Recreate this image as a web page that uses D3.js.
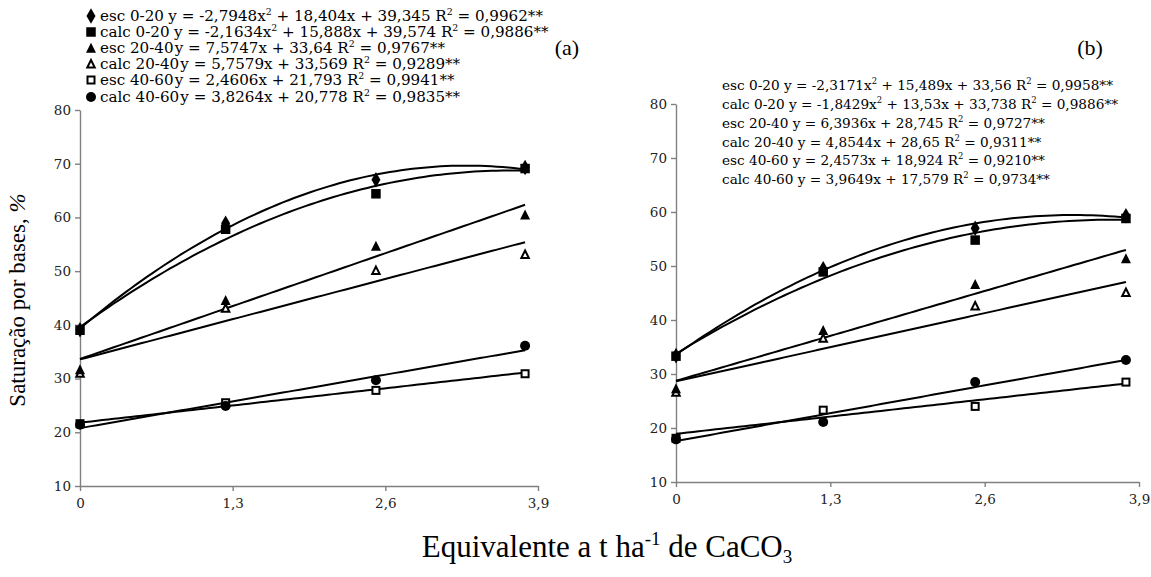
<!DOCTYPE html>
<html><head><meta charset="utf-8">
<script src="https://cdn.jsdelivr.net/npm/d3@7"></script>
<style>body{margin:0;background:#fff}svg{display:block}</style>
</head><body>
<svg id="c" width="1151" height="577"></svg>
<script>
// ---- data ----
const doses = [0, 1.24, 2.52, 3.79];          // x positions of the observations
const xTicks = [0, 1.3, 2.6, 3.9];
const yTicks = [10, 20, 30, 40, 50, 60, 70, 80];
const seriesNames = ["esc 0-20", "calc 0-20", "esc 20-40", "calc 20-40", "esc 40-60", "calc 40-60"];
const markers = ["diamond", "square", "triangle", "triangleOpen", "squareOpen", "circle"];
// panel (a)
const aValues = [
  [39.1, 58.9, 67.0, 69.3],
  [39.0, 57.8, 64.4, 69.1],
  [31.7, 44.6, 54.7, 60.5],
  [31.0, 43.1, 50.1, 53.1],
  [21.6, 25.5, 27.8, 30.9],
  [21.4, 24.9, 29.7, 36.1]
];
// trend coefficients [a2, a1, a0]
const aCoef = [
  [-2.7948, 18.404, 39.345],
  [-2.1634, 15.888, 39.574],
  [0, 7.5747, 33.64],
  [0, 5.7579, 33.569],
  [0, 2.4606, 21.793],
  [0, 3.8264, 20.778]
];
const aEq = [
  ["y = -2,7948x", "2", " + 18,404x + 39,345 R", "2", " = 0,9962**"],
  ["y = -2,1634x", "2", " + 15,888x + 39,574 R", "2", " = 0,9886**"],
  ["y = 7,5747x + 33,64 R", "2", " = 0,9767**"],
  ["y = 5,7579x + 33,569 R", "2", " = 0,9289**"],
  ["y = 2,4606x + 21,793 R", "2", " = 0,9941**"],
  ["y = 3,8264x + 20,778 R", "2", " = 0,9835**"]
];
// panel (b)
const bValues = [
  [33.4, 49.5, 57.0, 59.3],
  [33.3, 48.9, 54.8, 58.8],
  [27.3, 38.1, 46.6, 51.4],
  [26.6, 36.6, 42.6, 45.1],
  [18.1, 23.3, 24.0, 28.5],
  [17.9, 21.1, 28.5, 32.6]
];
const bCoef = [
  [-2.3171, 15.489, 33.56],
  [-1.8429, 13.53, 33.738],
  [0, 6.3936, 28.745],
  [0, 4.8544, 28.65],
  [0, 2.4573, 18.924],
  [0, 3.9649, 17.579]
];
const bEq = [
  ["y = -2,3171x", "2", " + 15,489x + 33,56 R", "2", " = 0,9958**"],
  ["y = -1,8429x", "2", " + 13,53x + 33,738 R", "2", " = 0,9886**"],
  ["y = 6,3936x + 28,745 R", "2", " = 0,9727**"],
  ["y = 4,8544x + 28,65 R", "2", " = 0,9311**"],
  ["y = 2,4573x + 18,924 R", "2", " = 0,9210**"],
  ["y = 3,9649x + 17,579 R", "2", " = 0,9734**"]
];

const svg = d3.select("#c");
const serif = "Liberation Serif";
const book = "DejaVu Serif";
const fmt = d => d === 0 ? "0" : d3.format(".1f")(d).replace(".", ",");

function drawMarker(g, type, cx, cy) {
  if (type === "diamond") {
    g.append("path").attr("d", d3.symbol(d3.symbolDiamond, 70)()).attr("transform", `translate(${cx},${cy})`).attr("fill", "#000");
  } else if (type === "square" || type === "squareOpen") {
    const open = type === "squareOpen";
    const w = open ? 7 : 9.5;
    g.append("rect").attr("x", cx - w / 2).attr("y", cy - w / 2).attr("width", w).attr("height", w)
      .attr("fill", open ? "#fff" : "#000").attr("stroke", "#000").attr("stroke-width", open ? 2 : 0);
  } else if (type === "triangle" || type === "triangleOpen") {
    const open = type === "triangleOpen";
    const h = open ? 7 : 9.5, w = open ? 7.5 : 10;
    g.append("path").attr("d", `M${cx},${cy - h / 2 - 0.5}L${cx + w / 2},${cy + h / 2}L${cx - w / 2},${cy + h / 2}Z`)
      .attr("fill", open ? "#fff" : "#000").attr("stroke", "#000").attr("stroke-width", open ? 2 : 0);
  } else if (type === "circle") {
    g.append("circle").attr("cx", cx).attr("cy", cy).attr("r", 5).attr("fill", "#000");
  }
}

function panel(opt) {
  const x = d3.scaleLinear().domain([0, 3.9]).range([opt.x0, opt.x1]);
  const y = d3.scaleLinear().domain([10, 80]).range([opt.y0, opt.y1]);
  const g = svg.append("g");
  const ax = g.append("g").attr("transform", `translate(0,${opt.y0})`)
    .call(d3.axisBottom(x).tickValues(xTicks).tickSize(5).tickSizeOuter(0).tickFormat(fmt));
  const ay = g.append("g").attr("transform", `translate(${opt.x0},0)`)
    .call(d3.axisLeft(y).tickValues(yTicks).tickSize(5).tickSizeOuter(0).tickFormat(d3.format("d")));
  [ax, ay].forEach(a => {
    a.attr("font-family", book);
    a.select(".domain").attr("stroke", "#808080").attr("stroke-width", 1.4);
    a.selectAll(".tick line").attr("stroke", "#808080").attr("stroke-width", 1.4);
    a.selectAll(".tick text").attr("font-family", book).attr("font-size", 13.5).attr("fill", "#222");
  });
  ax.selectAll(".tick text").attr("dy", "1.0em");
  ay.selectAll(".tick text").attr("x", -9);

  // trend lines
  const line = d3.line().x(d => x(d[0])).y(d => y(d[1]));
  const xs = d3.range(0, 80).map(i => doses[3] * i / 79);
  opt.coef.forEach(c => {
    const pts = xs.map(v => [v, c[0] * v * v + c[1] * v + c[2]]);
    g.append("path").attr("d", line(pts)).attr("fill", "none").attr("stroke", "#000").attr("stroke-width", 2);
  });
  const order = [0, 1, 3, 2, 4, 5];
  order.forEach(si => {
    opt.values[si].forEach((v, i) => drawMarker(g, markers[si], x(doses[i]), y(v)));
  });
  return g;
}

panel({ x0: 80, x1: 538, y0: 486, y1: 110, values: aValues, coef: aCoef });
panel({ x0: 676, x1: 1139, y0: 482, y1: 104, values: bValues, coef: bCoef });

// legends
function eqText(t, parts, size) {
  parts.forEach((p, i) => {
    const sup = (p === "2");
    t.append("tspan").text(p).attr("font-size", sup ? size * 0.62 : size)
      .attr("dy", sup ? -size * 0.42 : (i > 0 && parts[i - 1] === "2" ? size * 0.42 : 0));
  });
}
// legend (a)
const LA = 14;
const legA = svg.append("g").attr("font-family", book).attr("fill", "#000");
const rowYA = [16, 32, 48, 64, 80, 97];
const rowsA = seriesNames.map((n, i) => {
  drawMarker(legA, markers[i], 91, rowYA[i]);
  const rg = legA.append("g");
  const nt = rg.append("text").attr("x", 0).attr("y", 0).attr("font-size", LA).text(n);
  const et = rg.append("text").attr("y", 0).attr("font-size", LA);
  eqText(et, aEq[i], LA);
  return { rg, nt, et };
});
const eqStartA = 166;
const sxA = (541 - eqStartA) / rowsA[0].et.node().getComputedTextLength();
rowsA.forEach((r, i) => {
  const nw = r.nt.node().getComputedTextLength();
  r.et.attr("x", i < 2 ? Math.max((eqStartA - 100) / sxA, nw + 4) : nw + 1);
  r.rg.attr("transform", `translate(100,${rowYA[i] + 5}) scale(${sxA},1)`);
});
// legend (b)
const LB = 13.6;
const legB = svg.append("g").attr("font-family", book).attr("fill", "#000");
const rowYB = [85, 104, 123, 142, 160, 179];
const rowsB = seriesNames.map((n, i) => {
  const t = legB.append("text").attr("x", 0).attr("y", 0).attr("font-size", LB);
  t.append("tspan").text(n + " ");
  eqText(t, bEq[i], LB);
  return t;
});
const sxB = (1113 - 722) / rowsB[0].node().getComputedTextLength();
rowsB.forEach((t, i) => t.attr("transform", `translate(722,${rowYB[i] + 5}) scale(${sxB},1)`));

// panel labels
svg.append("text").attr("x", 567).attr("y", 55).attr("text-anchor", "middle")
  .attr("font-family", serif).attr("font-size", 22).text("(a)");
svg.append("text").attr("x", 1090).attr("y", 55).attr("text-anchor", "middle")
  .attr("font-family", serif).attr("font-size", 22).text("(b)");

// axis titles
const yt = svg.append("text").attr("transform", "translate(25,300) rotate(-90)").attr("text-anchor", "middle")
  .attr("font-family", serif).attr("font-size", 23);
yt.append("tspan").text("Saturação por bases, ");
yt.append("tspan").attr("font-style", "italic").text("%");

const xt = svg.append("text").attr("x", 607).attr("y", 557).attr("text-anchor", "middle")
  .attr("font-family", serif).attr("font-size", 31);
xt.append("tspan").text("Equivalente a t ha");
xt.append("tspan").attr("font-size", 19).attr("dy", -12).text("-1");
xt.append("tspan").attr("dy", 12).text(" de CaCO");
xt.append("tspan").attr("font-size", 19).attr("dy", 6).text("3");
</script>
</body></html>
